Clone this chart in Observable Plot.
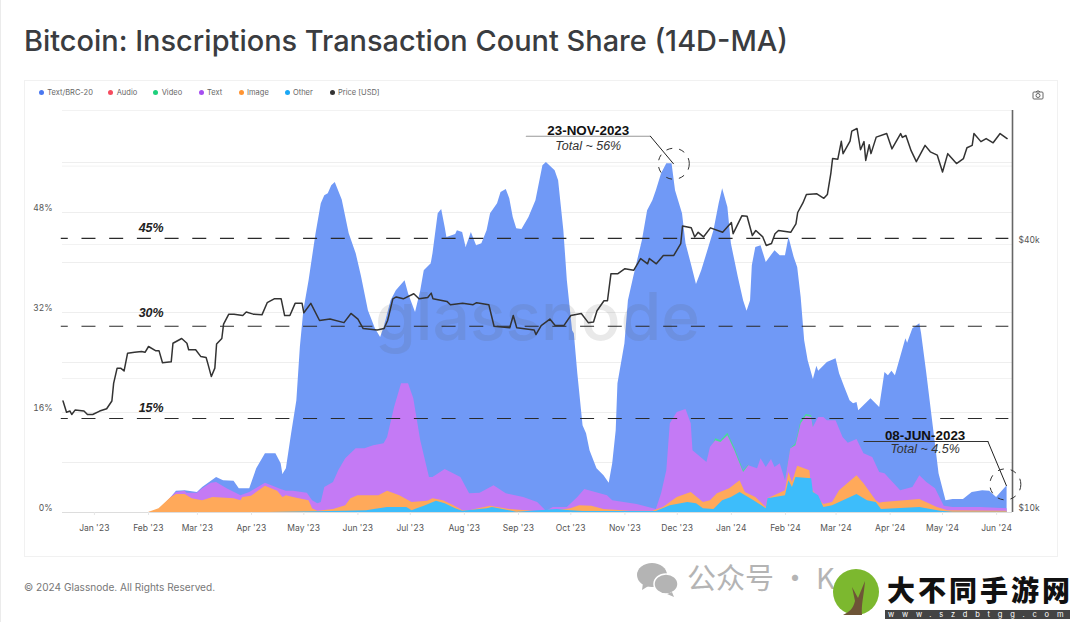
<!DOCTYPE html>
<html>
<head>
<meta charset="utf-8">
<script src="https://cdn.jsdelivr.net/npm/d3@7"></script>
<script src="https://cdn.jsdelivr.net/npm/@observablehq/plot@0.6"></script>
<style>
  body { margin: 0; width: 1080px; height: 622px; background: #fff; position: relative; overflow: hidden; font-family: Inter, sans-serif; box-shadow: inset 1px 0 0 #ebebeb; }
  #title { position: absolute; left: 24px; top: 23px; font-size: 28.95px; line-height: 36px; font-weight: 500; color: #3a3c40; white-space: nowrap; }
  #card { position: absolute; left: 24px; top: 80px; width: 1034px; height: 477px; box-shadow: inset 0 0 0 1px #f1f1f1; }
  #chart { position: absolute; left: 0; top: 0; }
  #legend span { position: absolute; top: 7.5px; font-size: 7.5px; color: #666; white-space: nowrap; }
  #legend i { position: absolute; top: 10px; width: 5px; height: 5px; border-radius: 50%; }
  #camera { position: absolute; left: 1008px; top: 10px; }
  #footer { position: absolute; left: 24px; top: 581px; font-size: 10.1px; color: #777; }
  #wm1 { position: absolute; left: 687px; top: 561px; font-size: 29px; line-height: 30px; color: #b4b4b4; font-family: "Noto Sans CJK SC"; white-space: nowrap; }
  #wm2 { position: absolute; left: 887px; top: 574px; font-size: 28px; line-height: 30px; letter-spacing: 3px; font-weight: 900; color: #111; font-family: "Noto Sans CJK SC"; white-space: nowrap; }
  #wm3 { position: absolute; left: 885px; top: 609.5px; width: 185px; height: 9px; padding-left: 3px; box-sizing: border-box; background: #444; font-size: 7.5px; line-height: 9px; color: #fff; letter-spacing: 7.8px; white-space: nowrap; overflow: hidden; }
  #logo, #wechat { position: absolute; }
  #logo { left: 833px; top: 569px; }
  #wechat { left: 636px; top: 561px; }
</style>
</head>
<body>
<div id="title">Bitcoin: Inscriptions Transaction Count Share (14D-MA)</div>
<div id="card">
  <div id="chart"></div>
  <div id="legend"></div>
  <svg id="camera" width="12" height="10" viewBox="0 0 12 10" fill="none" stroke="#666" stroke-width="1"><rect x="1" y="2" width="10" height="7" rx="1"/><circle cx="6" cy="5.5" r="2"/><path d="M4 2l1-1h2l1 1"/></svg>
</div>
<div id="footer">© 2024 Glassnode. All Rights Reserved.</div>
<div id="wm1">公众号 · K</div>
<svg id="wechat" width="44" height="36" viewBox="0 0 44 36" fill="#b4b4b4"><ellipse cx="16" cy="14" rx="15" ry="12"/><path d="M7 22l-1 7 8-5z"/><ellipse cx="30" cy="23" rx="12" ry="10" stroke="#fff" stroke-width="1.5"/><path d="M36 31l2 5-7-3z"/></svg>
<svg id="logo" width="48" height="50" viewBox="0 0 48 50"><circle cx="23" cy="23" r="23" fill="#7cb82f"/><path d="M10 46c6-3 10-6 12-14l-3-14 6 11 7-17c-1 14-4 24-3 34z" fill="#6e5537"/></svg>
<div id="wm2">大不同手游网</div>
<div id="wm3">www.szdbtgg.com</div>
<script>
// days are counted from 2023-01-01, shares are upper edges of each stacked band in %
const brc20Days = [31,34,38,44,47,52,59,62,66,70,74,80,83,89,93,98,104,107,108,110,113,116,118,120,123,127,130,132,134,136,138,142,146,150,153,157,161,164,166,170,173,178,180,184,187,189,193,194,197,199,201,202,207,208,211,213,215,216,219,222,225,227,231,233,236,238,240,242,245,249,253,257,259,264,266,269,271,274,275,277,280,282,284,288,292,295,297,299,300,304,306,309,314,317,320,322,325,328,331,333,337,339,342,345,348,351,355,358,360,363,365,369,372,374,376,377,379,382,385,390,393,396,398,401,403,405,407,409,412,414,415,420,425,427,430,433,435,437,438,445,450,453,455,457,459,465,466,469,473,474,477,481,484,488,492,498,503,509,513,517,523];
const brc20Top = [0,.05,.6,2.4,3.4,3.5,3.2,4,4.8,5.6,5.1,5,3.8,3.8,7,9.4,9.4,7.8,6.1,7,12.6,17.9,26.4,32.3,37.1,44.6,49.4,50.7,51,52.3,52.8,50,44.6,41.4,37.8,32.3,29.4,28,29.6,33.9,35.5,37.1,35,32,35.5,38.7,39.8,41.4,47.8,48.5,45.6,44,44.5,45.1,44.8,42.4,44,44.8,42.7,43,45.1,47.8,49.4,51.2,51.7,50.2,47.2,45.4,45.3,47.2,49.9,55.5,56,54.7,53.1,45.1,37.1,29.1,28.6,22.2,13.9,12.6,9.9,7,5.9,4.7,7.8,13.1,20.6,27,33.9,37.6,43.5,48.3,49.9,51.5,54.2,55.8,55.8,51.5,47.8,43,39.8,36.5,38.7,41.4,45.1,49.4,51.8,48.8,43,37.6,33.9,32.2,33.9,39.5,42.4,42.7,40,41.9,41.1,41.1,44,40.8,39.2,34.4,27.5,24.3,21.3,23.4,22.6,24,24.6,22.2,20,17.9,17.4,17.6,16.3,18.2,16.8,22.4,21.9,22.6,21.9,27.8,27.1,29.4,30.2,28.6,22.2,13.1,6.2,1.9,2.1,2.1,3.2,3.5,3.4,2.4,4.3];

const videoDays = [352,356,359,363,367,372,375,376,395,396,399,402,405,408,411,412,413];
const videoTop = [9,11.8,11.5,12.7,10.3,6.7,7.6,5,5,5.1,10.2,11,14.7,15.7,15.5,13.7,13];

const textDays = [31,34,38,44,47,52,53,59,62,67,70,76,84,89,98,107,110,114,122,125,128,130,132,137,140,144,150,155,160,166,168,172,176,180,183,187,192,194,201,210,215,221,229,236,246,254,259,263,271,277,281,294,297,311,322,325,328,330,334,339,342,343,351,353,356,359,363,367,372,375,380,382,385,388,390,393,396,399,402,405,408,411,412,415,418,420,425,429,432,437,441,446,450,453,462,469,473,477,482,487,492,508,523];
const textTop = [0,.05,.6,2.4,3.2,3.4,3.1,3.1,3.8,4.7,4.8,3.8,2.7,3.2,4.7,3.7,3.4,3.4,3.1,1.9,1.4,1.6,4,4.8,6.7,8.6,10.2,10.2,10.7,11,12,16.8,20.6,20.6,18.2,11.5,5.6,5.6,6.9,5.6,3,3.1,4.3,3,2.4,1.6,.2,.8,.8,2.4,3.7,2.7,1.9,1.3,.5,3,6.7,14.2,16,16.5,14.2,9.9,8,10.4,11.5,11.2,12.3,9.9,6.4,7.5,7,8.6,7.2,8.5,7.2,7.8,5.1,10.2,10.7,14.2,15.4,15.2,13.6,15.2,15.2,14.7,14.7,12,11.1,11.7,9.4,8.8,6.4,6.2,3.5,4,5.9,4.8,3.8,1,.8,.8,.6];

const imageDays = [31,37,44,47,52,56,62,68,80,84,85,90,98,105,108,110,114,123,125,128,137,144,147,151,160,163,168,175,182,191,194,200,206,211,215,227,238,259,273,278,285,292,307,320,326,334,342,349,353,357,364,370,373,379,385,386,396,398,400,403,410,411,416,418,423,427,437,441,448,450,452,473,483,489,523];
const imageTop = [0,.6,2.4,2.9,2.9,2.2,1.9,2.4,2.2,1.9,2.4,2.6,4.2,3.4,2.4,2.7,2.4,1.9,.6,.2,.5,1.1,2.2,2.7,2.7,2.7,3.4,2.7,1.6,1.8,2.2,1.9,1.1,.3,.3,1,.5,.05,.6,1.1,1,.5,.2,.2,.8,2.4,3.2,1.6,1.9,3,3.8,5.1,3.2,2.4,.8,2.2,3.5,6.4,4.8,7.4,6.7,3.8,1.9,1.3,1.6,3.5,5.9,4.6,1.9,1.5,1.6,2.1,.8,.3,.2];

const otherDays = [100,144,156,168,179,182,189,196,201,207,211,225,228,234,242,265,273,280,322,330,340,345,349,355,360,365,370,378,385,386,396,398,400,402,411,412,415,418,423,437,443,448,451,473,485,492,523];
const otherTop = [0,.2,.3,.8,.8,.3,1,1.8,1.4,.6,.2,.6,.8,.5,.05,.5,.3,.15,.15,1.1,1.6,1.4,.6,.5,1.9,2.4,3.2,1.9,.6,2.2,2.7,5.1,4,5.6,5.4,3.2,2.7,.8,1.1,2.9,1.9,1.6,.5,.8,.2,.05,.05];

// BTC price in $k
const priceDays = [-18,-16,-14,-13,-11,-6,-4,-1,3,7,10,11,13,15,17,19,23,27,29,31,35,37,39,44,45,50,53,54,58,61,64,65,67,69,70,73,74,77,80,85,87,91,96,99,103,107,109,112,115,119,120,124,129,135,143,147,151,154,162,166,168,171,173,177,183,186,191,193,194,202,204,211,217,219,226,229,238,240,242,252,253,256,261,264,269,273,279,283,286,288,292,294,296,300,304,309,313,317,318,322,326,332,336,337,342,344,346,349,353,360,365,366,371,374,377,379,383,385,388,390,392,399,402,403,406,408,414,418,420,422,423,426,428,429,433,434,437,439,441,442,444,445,448,454,457,462,463,465,468,471,476,479,483,486,489,494,498,500,503,504,508,511,515,519,523];
const priceK = [17.8,16.8,16.9,16.6,17,16.9,16.6,16.6,16.9,17.1,17.8,19.5,21.1,21.1,20.8,22.8,22.9,23,22.9,23.6,23.1,23.1,21.7,21.8,24,24.6,24,23.2,23.2,22.4,22.3,21.6,20.2,21.1,23.9,24.6,26.5,27.9,27.9,27.7,28.2,27.9,27.8,29.6,30.2,30.2,27.7,27.7,29.5,29.5,28.1,29.5,27,27.2,26.7,28,27.2,25.9,25.7,25.9,27,30.2,30.5,30.2,31,30.2,30.4,31.1,30.2,29.8,29.3,29.5,29.3,29.6,29.3,26.2,26,27.7,26,25.7,25.1,26.3,27.2,26.3,26.3,27.7,28,26.7,26.8,28.4,29.9,29.9,34.4,34.4,35.3,35,37.2,36.2,37.2,36.2,37.8,37.8,40.2,44,43.6,41.6,42.6,41.6,43.6,42.6,44.8,42.3,46.4,46.3,41.9,43,41.6,39.8,40.2,42.3,43,42.6,44.5,47.2,49.6,51.8,52,50.8,51.8,57.8,62.4,62.2,68.2,64,68.3,71.9,72.9,65.3,68.1,61.8,67,64,69.7,71,65.6,71,69.6,70.3,65,61.4,66.8,64.6,63.5,58.2,64,60.8,62.4,66,66.8,71,68.1,69.2,67.7,71,69.2];

const shareTicks = [0,16,32,48];
const shareGrid = [8,24,40,56];
const priceTicks = [10,40];
const priceGrid = [20,40,60,80];
const guideLevels = [15.04,29.8,43.85];
const guideLabels = ["15%","30%","45%"];
const guideLabelAt = [16.74,32,45.55];

const legendNames = ["Text/BRC-20","Audio","Video","Text","Image","Other","Price [USD]"];
const legendColors = ["#4a78f0","#f64b5e","#1ed07c","#a64ef0","#ff9432","#1aa7f5","#333"];
const legendLeft = [14.8,84.2,129.2,174.5,214.5,260.5,305.5];

const t0 = Date.UTC(2023,0,1);
const day = d => new Date(t0 + d*864e5);
// the price runs on a log axis sharing the frame with the % axis
const priceY = d3.scaleLog().domain([10,80]).range([0,64.32]);

const band = (days, tops, fill) => Plot.areaY(days, {x: d => day(d), y: (d,i) => tops[i], fill, curve: "linear"});
const font = "Liberation Sans";

const chart = Plot.plot({
  width: 1034,
  height: 477,
  marginLeft: 38,
  marginRight: 46,
  marginTop: 30,
  marginBottom: 45,
  x: {type: "utc", domain: [day(-18.3), day(526.1)]},
  y: {domain: [0,64.32]},
  style: {fontFamily: "Inter", background: "transparent"},
  marks: [
    Plot.gridY(shareTicks.concat(shareGrid, [64.32]), {stroke: "#eee", strokeOpacity: 1}),
    Plot.gridY(priceGrid.map(priceY), {stroke: "#f2f2f2", strokeOpacity: 1}),
    band(brc20Days, brc20Top, "#7099f6"),
    band(videoDays, videoTop, "#45dc94"),
    band(textDays, textTop, "#c47af5"),
    band(imageDays, imageTop, "#ffa95a"),
    band(otherDays, otherTop, "#3dbdfb"),
    Plot.text(["glassnode"], {frameAnchor: "middle", dy: 7, fontSize: 66, fontWeight: 500, fill: "#555", fillOpacity: 0.13}),
    Plot.ruleY([0], {stroke: "#ddd"}),
    Plot.ruleX([day(526.1)], {stroke: "#666", strokeWidth: 1.6}),
    Plot.axisX({ticks: d3.utcMonths(day(0), day(518)), tickFormat: d3.utcFormat("%b '%y"), tickSize: 3, tickPadding: 9, stroke: "#e6e6e6", fill: "#555", fontSize: 8.5, label: null}),
    Plot.axisY({ticks: shareTicks, tickFormat: d => d + "%", tickSize: 0, tickPadding: 10, dy: -4.5, fill: "#555", fontSize: 8.5, label: null}),
    Plot.axisY({anchor: "right", ticks: priceTicks.map(priceY), tickFormat: (d,i) => "$" + priceTicks[i] + "k", tickSize: 0, tickPadding: 6, dy: -4.5, fill: "#555", fontSize: 8.5, label: null}),
    Plot.ruleY(guideLevels, {x1: day(-19), x2: day(524), stroke: "#2a2a2a", strokeWidth: 1.2, strokeDasharray: "14 13.7", strokeDashoffset: 7}),
    Plot.text(guideLabels, {x: day(32.5), y: (d,i) => guideLabelAt[i], fontFamily: font, fontSize: 12.5, fontWeight: 700, fontStyle: "italic", fill: "#222"}),
    Plot.line(priceDays, {x: d => day(d), y: (d,i) => priceY(priceK[i]), stroke: "#333", strokeWidth: 1.5, curve: "linear"}),
    // callouts
    Plot.line([247.5,318.6], {x: d => day(d), y: () => 60.2, stroke: "#999", strokeWidth: 1.2}),
    Plot.line([318.6,331.8], {x: d => day(d), y: (d,i) => [60.2,55.8][i], stroke: "#222", strokeWidth: 1}),
    Plot.dot([332], {x: d => day(d), y: () => 55.8, r: 15.5, stroke: "#333", strokeDasharray: "6 7", strokeWidth: 1}),
    Plot.text(["23-NOV-2023"], {x: day(283), y: 61.1, fontFamily: font, fontSize: 13.4, fontWeight: 700, fill: "#111"}),
    Plot.text(["Total ~ 56%"], {x: day(283), y: 58.7, fontFamily: font, fontSize: 12.5, fontStyle: "italic", fill: "#333"}),
    Plot.line([441,512], {x: d => day(d), y: () => 11.36, stroke: "#333", strokeWidth: 1}),
    Plot.line([512,522.6], {x: d => day(d), y: (d,i) => [11.36,4.3][i], stroke: "#222", strokeWidth: 1}),
    Plot.dot([522], {x: d => day(d), y: () => 4.5, r: 15.5, stroke: "#333", strokeDasharray: "6 7", strokeWidth: 1}),
    Plot.text(["08-JUN-2023"], {x: day(476), y: 12.3, fontFamily: font, fontSize: 13.4, fontWeight: 700, fill: "#111"}),
    Plot.text(["Total ~ 4.5%"], {x: day(476), y: 10.1, fontFamily: font, fontSize: 12.5, fontStyle: "italic", fill: "#333"})
  ]
});
document.getElementById("chart").append(chart);

// legend row
const legend = d3.select("#legend");
legendNames.forEach((name, i) => {
  legend.append("i").style("left", legendLeft[i] + "px").style("background", legendColors[i]);
  legend.append("span").style("left", (legendLeft[i] + 8.5) + "px").text(name);
});
</script>
</body>
</html>
